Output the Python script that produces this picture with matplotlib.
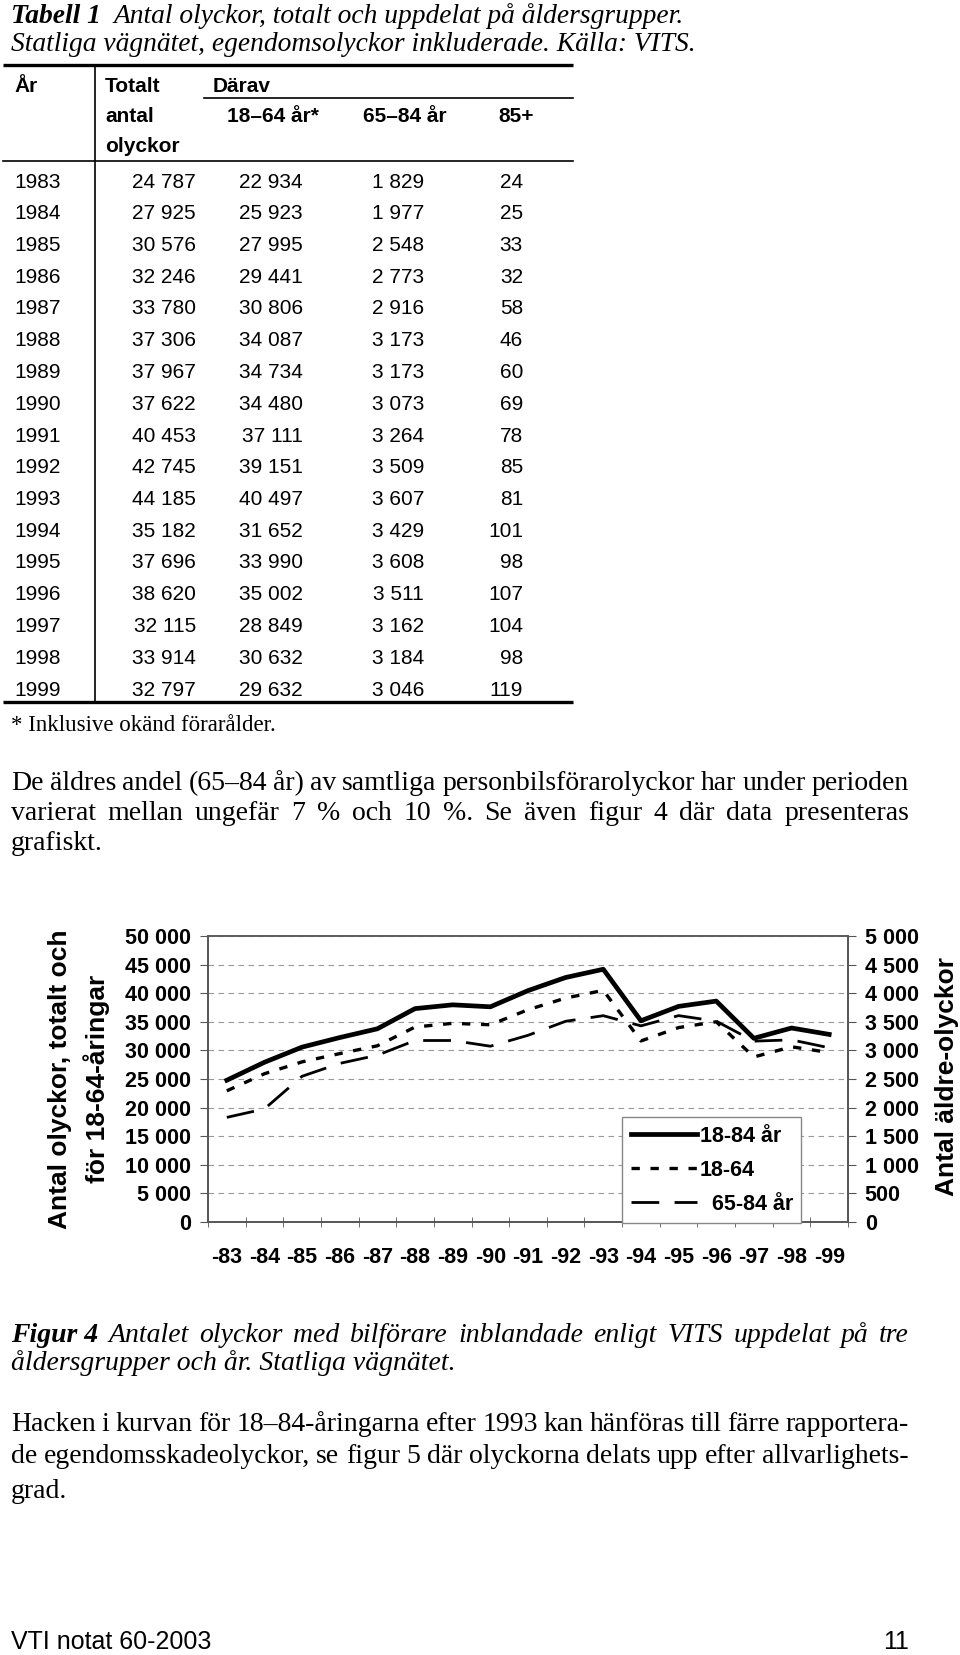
import numpy as np
import matplotlib
matplotlib.use("Agg")
import matplotlib.pyplot as plt

plt.rcParams['font.family'] = ['Liberation Sans', 'DejaVu Sans']
SERIF = ['Liberation Serif', 'DejaVu Serif']

# table data (Tabell 1)
years = [1983, 1984, 1985, 1986, 1987, 1988, 1989, 1990, 1991,
         1992, 1993, 1994, 1995, 1996, 1997, 1998, 1999]
totalt = [24787, 27925, 30576, 32246, 33780, 37306, 37967, 37622, 40453,
          42745, 44185, 35182, 37696, 38620, 32115, 33914, 32797]
age_18_64 = [22934, 25923, 27995, 29441, 30806, 34087, 34734, 34480, 37111,
             39151, 40497, 31652, 33990, 35002, 28849, 30632, 29632]
age_65_84 = [1829, 1977, 2548, 2773, 2916, 3173, 3173, 3073, 3264,
             3509, 3607, 3429, 3608, 3511, 3162, 3184, 3046]
age_85 = [24, 25, 33, 32, 58, 46, 60, 69, 78, 85, 81, 101, 98, 107, 104, 98, 119]

year_labels = ['-83', '-84', '-85', '-86', '-87', '-88', '-89', '-90', '-91',
               '-92', '-93', '-94', '-95', '-96', '-97', '-98', '-99']
left_ticks = [0, 5000, 10000, 15000, 20000, 25000, 30000, 35000, 40000, 45000, 50000]
right_ticks = [0, 500, 1000, 1500, 2000, 2500, 3000, 3500, 4000, 4500, 5000]
legend_labels = ['18-84 år', '18-64', '  65-84 år']


def fmt(v):
    return f"{v:,}".replace(",", " ")


fig = plt.figure(figsize=(9.6, 16.55), dpi=100, facecolor='white')
ax0 = fig.add_axes([0, 0, 1, 1])
ax0.set_xlim(0, 960)
ax0.set_ylim(1655, 0)
ax0.axis('off')
r = fig.canvas.get_renderer()


def width(t):
    return t.get_window_extent(renderer=r).width


def put_line(y, words, x0=11, x1=None, size=20, gap=6):
    # y is the visual centre of the line; words share one baseline
    base = y + size * 0.36
    ts = [ax0.text(0, base, w, fontsize=size, va='baseline', ha='left', **kw)
          for w, kw in words]
    ws = [width(t) for t in ts]
    if x1 is not None and len(ts) > 1:
        sp = (x1 - x0 - sum(ws)) / (len(ts) - 1)
    else:
        sp = gap
    x = x0
    for t, w in zip(ts, ws):
        t.set_x(x)
        x += w + sp


def words_of(s, **kw):
    kw.setdefault('family', SERIF)
    return [(w, kw) for w in s.split()]


# ---- title ----
put_line(16, [('Tabell 1', dict(family=SERIF, style='italic', weight='bold')),
              ('Antal olyckor, totalt och uppdelat på åldersgrupper.', dict(family=SERIF, style='italic'))],
         size=19.8, gap=13)
put_line(44, [('Statliga vägnätet, egendomsolyckor inkluderade. Källa: VITS.',
               dict(family=SERIF, style='italic'))], size=19.8)

# ---- table ----
tx0, tx1 = 3, 573
ax0.plot([tx0, tx1], [65, 65], color='black', lw=2.4, solid_capstyle='butt')
ax0.plot([204, tx1], [98, 98], color='black', lw=1.2)
ax0.plot([tx0, tx1], [161, 161], color='black', lw=1.2)
ax0.plot([tx0, tx1], [702, 702], color='black', lw=2.4, solid_capstyle='butt')
ax0.plot([95, 95], [65, 702], color='black', lw=1.2)

hfs = 15
ax0.text(14, 86, 'År', fontsize=hfs, weight='bold', va='center')
ax0.text(105, 86, 'Totalt', fontsize=hfs, weight='bold', va='center')
ax0.text(105, 117, 'antal', fontsize=hfs, weight='bold', va='center')
ax0.text(105, 146, 'olyckor', fontsize=hfs, weight='bold', va='center')
ax0.text(213, 86, 'Därav', fontsize=hfs, weight='bold', va='center')
ax0.text(227, 117, '18–64 år*', fontsize=hfs, weight='bold', va='center')
ax0.text(363, 117, '65–84 år', fontsize=hfs, weight='bold', va='center')
ax0.text(498, 117, '85+', fontsize=hfs, weight='bold', va='center')

col_right = [196, 303, 424, 523]
for i, yr in enumerate(years):
    yy = 182 + i * 31.75
    ax0.text(14, yy, str(yr), fontsize=hfs, va='center')
    for xr, v in zip(col_right, [totalt[i], age_18_64[i], age_65_84[i], age_85[i]]):
        ax0.text(xr, yy, fmt(v), fontsize=hfs, va='center', ha='right')

put_line(725, [('* Inklusive okänd förarålder.', dict(family=SERIF))], size=16.5)

# ---- paragraph ----
put_line(783, words_of('De äldres andel (65–84 år) av samtliga personbilsförarolyckor har under perioden'), x1=909)
put_line(813, words_of('varierat mellan ungefär 7 % och 10 %. Se även figur 4 där data presenteras'), x1=909)
put_line(843, [('grafiskt.', dict(family=SERIF))])

# ---- chart ----
ax = fig.add_axes([208 / 960, 1 - 1222 / 1655, 640 / 960, 286 / 1655])
x = np.arange(len(years))
l1, = ax.plot(x, totalt, color='black', lw=3.4, zorder=3)
l2, = ax.plot(x, age_18_64, color='black', lw=2.4, ls=(0, (2.5, 3.2)), zorder=3)
ax.set_xlim(-0.5, len(years) - 0.5)
ax.set_ylim(0, 50000)
ax.set_yticks(left_ticks)
ax.set_yticklabels([fmt(v) for v in left_ticks])
ax.set_xticks(x)
ax.set_xticklabels(year_labels)
ax.set_xticks(np.arange(-0.5, len(years), 1), minor=True)
ax.tick_params(axis='x', which='major', length=0, pad=18)
ax.tick_params(axis='x', which='minor', length=7, direction='inout', color='#555')
ax.tick_params(axis='y', length=6, color='#555', pad=6)
ax.yaxis.grid(True, ls=(0, (5, 4)), color='#999', lw=0.8)
ax.set_axisbelow(True)
for s in ax.spines.values():
    s.set_color('#555')
    s.set_linewidth(1.2)
ax.spines['top'].set_color('#888')

ax2 = ax.twinx()
l3, = ax2.plot(x, age_65_84, color='black', lw=2.0, ls=(0, (10, 5.5)), zorder=3)
ax2.set_ylim(0, 5000)
ax2.set_yticks(right_ticks)
ax2.set_yticklabels([fmt(v) for v in right_ticks])
ax2.tick_params(axis='y', length=6, color='#555', pad=6)
for s in ax2.spines.values():
    s.set_color('#555')
    s.set_linewidth(1.2)

for lab in ax.get_xticklabels() + ax.get_yticklabels() + ax2.get_yticklabels():
    lab.set_fontweight('bold')
    lab.set_fontsize(15.5)

leg = ax2.legend([l1, l2, l3], legend_labels, loc='lower left',
                 bbox_to_anchor=(0.647, -0.005), borderaxespad=0,
                 prop=dict(weight='bold', size=15.5), handlelength=3.1,
                 handletextpad=0.1, labelspacing=0.6, borderpad=0.4,
                 fancybox=False, framealpha=1, edgecolor='#888')
leg.get_frame().set_linewidth(1.0)

ax0.text(60, 1079, 'Antal olyckor, totalt och', rotation=90, ha='center', va='center',
         fontsize=19, weight='bold')
ax0.text(97, 1079, 'för 18-64-åringar', rotation=90, ha='center', va='center',
         fontsize=19, weight='bold')
ax0.text(947, 1077, 'Antal äldre-olyckor', rotation=90, ha='center', va='center',
         fontsize=19, weight='bold')

# ---- caption ----
put_line(1335, [('Figur 4', dict(family=SERIF, style='italic', weight='bold'))] +
         words_of('Antalet olyckor med bilförare inblandade enligt VITS uppdelat på tre', style='italic'),
         x1=909)
put_line(1363, [('åldersgrupper och år. Statliga vägnätet.', dict(family=SERIF, style='italic'))])

# ---- second paragraph ----
put_line(1424, words_of('Hacken i kurvan för 18–84-åringarna efter 1993 kan hänföras till färre rapportera-'), x1=909)
put_line(1456, words_of('de egendomsskadeolyckor, se figur 5 där olyckorna delats upp efter allvarlighets-'), x1=909)
put_line(1491, [('grad.', dict(family=SERIF))])

# ---- footer ----
ax0.text(11, 1642, 'VTI notat 60-2003', fontsize=18, va='center')
ax0.text(909, 1642, '11', fontsize=18, va='center', ha='right')

fig.savefig('out.png', dpi=100, facecolor='white')
